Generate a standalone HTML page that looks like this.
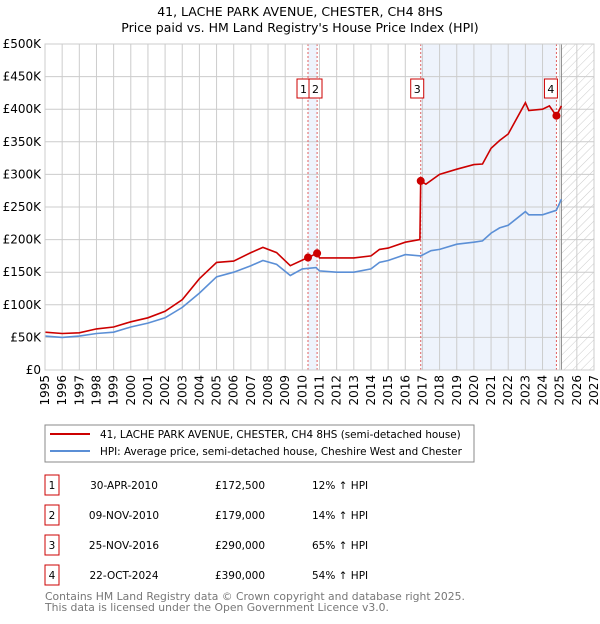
<!DOCTYPE html>
<html><head><meta charset="utf-8">
<style>
body{margin:0;background:#fff;font-family:"DejaVu Sans","Liberation Sans",sans-serif;}
svg text{font-family:"DejaVu Sans","Liberation Sans",sans-serif;}
</style></head>
<body>
<svg id="c" width="600" height="620" xmlns="http://www.w3.org/2000/svg">
<defs>
<pattern id="hatch" width="6" height="6" patternUnits="userSpaceOnUse" patternTransform="rotate(45)">
<line x1="0" y1="0" x2="0" y2="6" stroke="#ccc" stroke-width="1"/>
</pattern>
</defs>
<text x="300" y="16" text-anchor="middle" font-size="12.5" fill="#000">41, LACHE PARK AVENUE, CHESTER, CH4 8HS</text>
<text x="300" y="32" text-anchor="middle" font-size="12.5" fill="#000">Price paid vs. HM Land Registry's House Price Index (HPI)</text>
<g id="plot"></g>
<g>
<rect x="45" y="425" width="429" height="37" fill="#fff" stroke="#888"/>
<line x1="50" y1="434" x2="90" y2="434" stroke="#cc0000" stroke-width="2"/>
<text x="100" y="438" font-size="10.4">41, LACHE PARK AVENUE, CHESTER, CH4 8HS (semi-detached house)</text>
<line x1="50" y1="451" x2="90" y2="451" stroke="#5b8fd6" stroke-width="2"/>
<text x="100" y="455" font-size="10.4">HPI: Average price, semi-detached house, Cheshire West and Chester</text>
</g>
<g id="table" font-size="10.5"></g>
<text x="45" y="600" font-size="10.8" fill="#777">Contains HM Land Registry data © Crown copyright and database right 2025.</text>
<text x="45" y="611" font-size="10.8" fill="#777">This data is licensed under the Open Government Licence v3.0.</text>
</svg>
<script>
const hpiYears=[1995,1996,1997,1998,1999,2000,2001,2002,2003,2004,2005,2006,2007,2007.7,2008.5,2009.3,2010,2010.8,2011,2012,2013,2014,2014.5,2015,2016,2016.9,2017.5,2018,2019,2020,2020.5,2021,2021.5,2022,2023,2023.2,2024,2024.8,2025.1];
const hpiValues=[52,50,52,56,58,66,72,80,96,118,143,150,160,168,162,145,155,157,152,150,150,155,165,168,177,175,183,185,193,196,198,210,218,222,243,238,238,245,262];
const priceYears=[1995,1996,1997,1998,1999,2000,2001,2002,2003,2004,2005,2006,2007,2007.7,2008.5,2009.3,2010.33,2010.86,2011,2012,2013,2014,2014.5,2015,2016,2016.85,2016.9,2017.2,2018,2019,2020,2020.5,2021,2021.5,2022,2023,2023.2,2024,2024.4,2024.8,2025.1];
const priceValues=[58,56,57,63,66,74,80,90,108,140,165,167,180,188,180,160,172.5,179,172,172,172,175,185,187,196,200,290,285,300,308,315,316,340,352,362,410,398,400,405,390,405];
const saleLabels=["1","2","3","4"];
const saleYears=[2010.33,2010.86,2016.9,2024.81];
const saleValues=[172.5,179,290,390];
const saleDates=["30-APR-2010","09-NOV-2010","25-NOV-2016","22-OCT-2024"];
const salePrices=["£172,500","£179,000","£290,000","£390,000"];
const saleDeltas=["12% ↑ HPI","14% ↑ HPI","65% ↑ HPI","54% ↑ HPI"];
const yTicks=[0,50,100,150,200,250,300,350,400,450,500];
const yTickLabels=["£0","£50K","£100K","£150K","£200K","£250K","£300K","£350K","£400K","£450K","£500K"];
const xTicks=[1995,1996,1997,1998,1999,2000,2001,2002,2003,2004,2005,2006,2007,2008,2009,2010,2011,2012,2013,2014,2015,2016,2017,2018,2019,2020,2021,2022,2023,2024,2025,2026,2027];
const dataEnd=2025.1;

const L=45,R=594,T=44,B=370;
const X=y=>L+(y-1995)/(2027-1995)*(R-L);
const Y=v=>B-v/500*(B-T);
const NS="http://www.w3.org/2000/svg";
const plot=document.getElementById('plot');
function mk(tag,attrs,parent){const e=document.createElementNS(NS,tag);for(const k in attrs)e.setAttribute(k,attrs[k]);(parent||plot).appendChild(e);return e;}

let e;
e=mk('rect',{x:X(saleYears[0]),y:T,width:X(saleYears[1])-X(saleYears[0]),height:B-T,fill:'#eef3fc'});


e=mk('rect',{x:X(saleYears[2]),y:T,width:X(saleYears[3])-X(saleYears[2]),height:B-T,fill:'#eef3fc'});


e=mk('rect',{x:X(dataEnd),y:T,width:R-X(dataEnd),height:B-T,fill:'url(#hatch)'});



yTicks.forEach((v,i)=>{
  e=mk('line',{x1:L,x2:R,y1:Y(v),y2:Y(v),stroke:'#ccc','stroke-width':1});
  
  
  e=mk('text',{x:L-4,y:Y(v)+4,'text-anchor':'end','font-size':'12'});
  e.textContent=yTickLabels[i];
  
  
});
xTicks.forEach(y=>{
  e=mk('line',{x1:X(y),x2:X(y),y1:T,y2:B,stroke:'#ccc','stroke-width':1});
  
  
  e=mk('text',{x:0,y:0,'text-anchor':'end','font-size':'12',transform:`translate(${X(y)+4},${B+5}) rotate(-90)`});
  e.textContent=y;
  
  
});
e=mk('line',{x1:X(dataEnd),x2:X(dataEnd),y1:T,y2:B,stroke:'#888','stroke-width':1});



saleYears.forEach((y,i)=>{
  e=mk('line',{x1:X(y),x2:X(y),y1:T,y2:B,stroke:'#e06060','stroke-width':1,'stroke-dasharray':'2,2'});
  
  
});

function path(xs,vs){return xs.map((y,i)=>(i?'L':'M')+X(y).toFixed(1)+','+Y(vs[i]).toFixed(1)).join(' ');}
e=mk('path',{d:path(hpiYears,hpiValues),fill:'none',stroke:'#5b8fd6','stroke-width':1.6});


e=mk('path',{d:path(priceYears,priceValues),fill:'none',stroke:'#cc0000','stroke-width':1.6});



const boxOffsets=[-11,-7,-10,-12];
saleYears.forEach((y,i)=>{
  e=mk('circle',{cx:X(y),cy:Y(saleValues[i]),r:4,fill:'#cc0000'});
  
  
  const bx=(i==1)?X(saleYears[0])+1:X(y)+boxOffsets[i];
  e=mk('rect',{x:bx,y:79,width:13,height:19,fill:'#fff',stroke:'#cc0000'});
  
  
  e=mk('text',{x:bx+6.5,y:93,'text-anchor':'middle','font-size':'11'});
  e.textContent=saleLabels[i];
  
  
});
e=mk('rect',{x:L,y:T,width:R-L,height:B-T,fill:'none',stroke:'#ccc'});



const tbl=document.getElementById('table');
const rowY=[482,512,542,572];
saleLabels.forEach((s,i)=>{
  const ry=rowY[i];
  e=mk('rect',{x:45,y:ry-7,width:14,height:20,fill:'#fff',stroke:'#cc0000'},tbl);
  
  
  e=mk('text',{x:52,y:ry+7,'text-anchor':'middle'},tbl);e.textContent=s;
  
  
  e=mk('text',{x:124,y:ry+7,'text-anchor':'middle'},tbl);e.textContent=saleDates[i];
  
  
  e=mk('text',{x:240,y:ry+7,'text-anchor':'middle'},tbl);e.textContent=salePrices[i];
  
  
  e=mk('text',{x:312,y:ry+7},tbl);e.textContent=saleDeltas[i];
  
  
});
</script>
</body></html>
